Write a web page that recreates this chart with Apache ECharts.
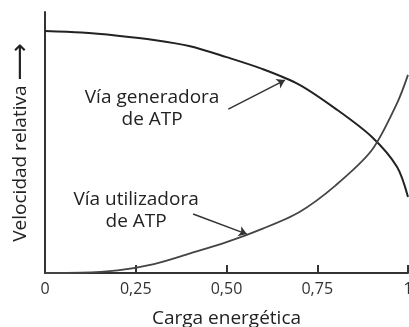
<!DOCTYPE html>
<html>
<head>
<meta charset="utf-8">
<script src="https://cdn.jsdelivr.net/npm/echarts@6/dist/echarts.min.js"></script>
<style>
  html, body { margin: 0; padding: 0; background: #fff; }
  #main { width: 409px; height: 327px; }
</style>
</head>
<body>
<div id="main"></div>
<script>
// carga energetica (x) y velocidad relativa (y)
var genX = [0, 0.1, 0.2, 0.3, 0.4, 0.5, 0.6, 0.7, 0.8, 0.9, 0.97, 1.0];
var genY = [0.927, 0.921, 0.909, 0.893, 0.869, 0.827, 0.781, 0.722, 0.630, 0.522, 0.406, 0.291];
var utiX = [0, 0.1, 0.2, 0.3, 0.4, 0.5, 0.6, 0.7, 0.8, 0.9, 0.97, 1.0];
var utiY = [0, 0.001, 0.010, 0.034, 0.075, 0.118, 0.170, 0.233, 0.335, 0.470, 0.651, 0.759];
var tickVals = [0, 0.25, 0.5, 0.75, 1];
var tickLabels = ['0', '0,25', '0,50', '0,75', '1'];

// rotulos y flechas
var genText = 'Vía generadora\nde ATP';
var utiText = 'Vía utilizadora\nde ATP';
var genTextPos = [0.295, 0.628];
var utiTextPos = [0.251, 0.238];
var genArrow = [[0.505, 0.628], [0.661, 0.739]];
var utiArrow = [[0.408, 0.226], [0.556, 0.149]];

function pairs(xs, ys) {
    var out = [];
    for (var i = 0; i < xs.length; i++) out.push([xs[i], ys[i]]);
    return out;
}

var font = 'Open Sans';
var myChart = echarts.init(document.getElementById('main'));
myChart.setOption({
    animation: false,
    grid: { left: 45, right: 1, top: 12, bottom: 54, outerBoundsMode: 'none', containLabel: false },
    xAxis: {
        type: 'value',
        min: 0, max: 1, interval: 0.25,
        name: 'Carga energética',
        nameLocation: 'middle',
        nameGap: 36,
        nameTextStyle: { fontFamily: font, fontSize: 19, color: '#222' },
        axisLine: { show: true, lineStyle: { color: '#333', width: 2 } },
        axisTick: { show: true, inside: true, length: 8, lineStyle: { color: '#333', width: 2 } },
        axisLabel: {
            margin: 8, fontFamily: font, fontSize: 16, color: '#333',
            formatter: function (v) {
                var i = tickVals.indexOf(v);
                return i >= 0 ? tickLabels[i] : '';
            }
        },
        splitLine: { show: false }
    },
    yAxis: {
        type: 'value',
        min: 0, max: 1,
        name: '{t|Velocidad relativa} {a|⟶}',
        nameLocation: 'middle',
        nameRotate: 90,
        nameGap: 11,
        nameTextStyle: {
            fontFamily: font, fontSize: 19, color: '#222',
            rich: {
                t: { fontFamily: font, fontSize: 19, color: '#222' },
                a: { fontFamily: 'DejaVu Sans', fontSize: 26, color: '#222' }
            }
        },
        axisLine: { show: true, lineStyle: { color: '#333', width: 2 } },
        axisTick: { show: false },
        axisLabel: { show: false },
        splitLine: { show: false }
    },
    series: [{
        name: 'generadora',
        type: 'line',
        data: pairs(genX, genY),
        smooth: 0.3,
        symbol: 'none',
        lineStyle: { color: '#222', width: 2 },
        markPoint: {
            symbol: 'circle', symbolSize: 0,
            label: { show: true, formatter: genText, fontFamily: font, fontSize: 19, lineHeight: 22, color: '#222', align: 'center' },
            data: [{ coord: genTextPos }]
        },
        markLine: {
            silent: true,
            symbol: ['none', 'arrow'], symbolSize: 8,
            label: { show: false },
            lineStyle: { color: '#333', width: 1.5, type: 'solid', curveness: 0.2 },
            data: [[{ coord: genArrow[0] }, { coord: genArrow[1] }]]
        }
    }, {
        name: 'utilizadora',
        type: 'line',
        data: pairs(utiX, utiY),
        smooth: 0.3,
        symbol: 'none',
        lineStyle: { color: '#444', width: 1.8 },
        markPoint: {
            symbol: 'circle', symbolSize: 0,
            label: { show: true, formatter: utiText, fontFamily: font, fontSize: 19, lineHeight: 22, color: '#222', align: 'center' },
            data: [{ coord: utiTextPos }]
        },
        markLine: {
            silent: true,
            symbol: ['none', 'arrow'], symbolSize: 8,
            label: { show: false },
            lineStyle: { color: '#333', width: 1.5, type: 'solid', curveness: -0.05 },
            data: [[{ coord: utiArrow[0] }, { coord: utiArrow[1] }]]
        }
    }]
});
</script>
</body>
</html>
